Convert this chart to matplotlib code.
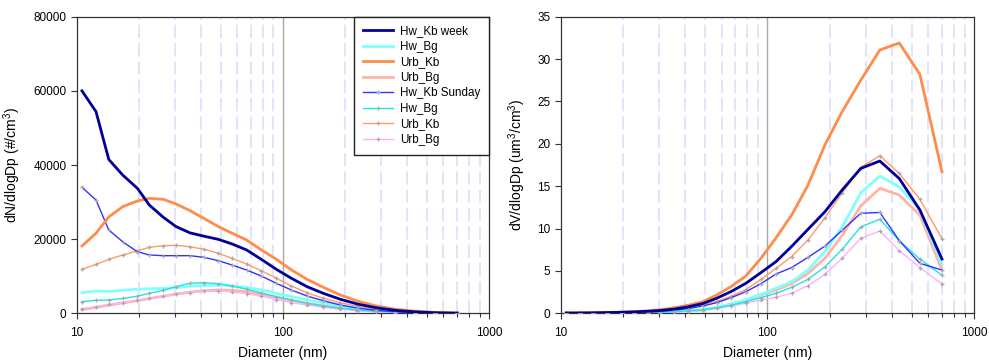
import numpy as np
import matplotlib
matplotlib.use("Agg")
import matplotlib.pyplot as plt
from matplotlib.ticker import FixedLocator, NullFormatter, FixedFormatter

plt.rcParams['font.family'] = ['Liberation Sans', 'DejaVu Sans']
plt.rcParams['mathtext.fontset'] = 'custom'
plt.rcParams['mathtext.rm'] = 'Liberation Sans'

# Diameters (nm)
diam = [10.6, 12.4, 14.3, 16.7, 19.7, 22.5, 26.3, 30.3, 35.4, 41.4, 48.6, 56.7,
        66.6, 78.6, 93, 110, 131, 157, 190, 230, 283, 350, 435, 547, 700]

# Number size distributions dN/dlogDp (#/cm3)
n_hw_kb_week = [60000, 54400, 41500, 37300, 33700, 29200, 25900, 23400, 21700, 20800, 19950, 18700,
                17100, 14550, 11850, 9440, 7180, 5390, 3780, 2500, 1500, 800, 400, 150, 50]
n_hw_bg = [5560, 6000, 5900, 6200, 6500, 6600, 6700, 6900, 7300, 7500, 7600, 7400,
           7000, 6300, 5400, 4500, 3600, 2800, 2000, 1400, 900, 500, 250, 100, 40]
n_urb_kb = [18150, 21600, 26000, 28750, 30300, 31000, 30750, 29500, 27700, 25600, 23400, 21600,
            19800, 17100, 14550, 11700, 9170, 7010, 4940, 3300, 2000, 1100, 600, 250, 80]
n_urb_bg = [1000, 1600, 2200, 2800, 3400, 4000, 4600, 5200, 5700, 6100, 6300, 6200,
            5800, 5100, 4300, 3500, 2700, 2000, 1400, 900, 550, 300, 150, 60, 20]
n_hw_kb_sun = [34000, 30550, 22470, 19300, 16600, 15730, 15540, 15540, 15540, 15100, 14200, 13030,
               11680, 10060, 8090, 6280, 4670, 3400, 2240, 1400, 800, 400, 200, 80, 30]
n_hw_bg2 = [3130, 3500, 3600, 4000, 4600, 5400, 6200, 7200, 8090, 8270, 8000, 7360,
            6500, 5500, 4500, 3600, 2700, 2000, 1400, 900, 550, 300, 150, 60, 20]
n_urb_kb2 = [11870, 13200, 14560, 15720, 16880, 17800, 18230, 18340, 17960, 17260, 16180, 14830,
             13300, 11490, 9440, 7360, 5560, 4050, 2860, 1900, 1100, 600, 300, 120, 40]
n_urb_bg2 = [1200, 1800, 2400, 2900, 3500, 4000, 4600, 5100, 5600, 5900, 6000, 5800,
             5300, 4600, 3700, 2900, 2200, 1600, 1100, 700, 400, 200, 100, 40, 15]

# Volume size distributions dV/dlogDp (um3/cm3)
v_hw_kb_week = [0.04, 0.05, 0.06, 0.09, 0.13, 0.17, 0.24, 0.33, 0.5, 0.77, 1.15, 1.77,
                2.56, 3.54, 4.8, 6.1, 7.9, 9.9, 12.0, 14.55, 17.1, 17.97, 15.9, 12.2, 6.4]
v_hw_bg = [0.003, 0.006, 0.009, 0.015, 0.026, 0.04, 0.065, 0.1, 0.17, 0.28, 0.45, 0.7,
           1.1, 1.6, 2.24, 2.95, 3.73, 5.1, 7.3, 10.2, 14.2, 16.2, 14.9, 12.2, 5.8]
v_urb_kb = [0.01, 0.02, 0.04, 0.07, 0.12, 0.19, 0.29, 0.43, 0.66, 0.95, 1.37, 2.16,
            3.15, 4.4, 6.5, 8.9, 11.6, 15.1, 19.9, 23.8, 27.5, 31.07, 31.9, 28.2, 16.7]
v_urb_bg = [0.001, 0.002, 0.003, 0.007, 0.014, 0.024, 0.044, 0.075, 0.13, 0.23, 0.4, 0.65,
            1.0, 1.5, 2.16, 2.75, 3.5, 4.7, 6.5, 9.2, 12.66, 14.75, 13.96, 11.6, 5.1]
v_hw_kb_sun = [0.02, 0.03, 0.03, 0.05, 0.07, 0.09, 0.15, 0.23, 0.36, 0.56, 0.86, 1.25,
               1.84, 2.55, 3.5, 4.64, 5.4, 6.6, 7.94, 9.8, 11.8, 11.9, 8.57, 5.9, 5.1]
v_hw_bg2 = [0.002, 0.003, 0.005, 0.01, 0.02, 0.03, 0.06, 0.1, 0.18, 0.31, 0.4, 0.65,
            0.95, 1.37, 1.84, 2.36, 3.07, 4.0, 5.5, 7.55, 10.2, 11.1, 8.57, 6.4, 4.5]
v_urb_kb2 = [0.01, 0.01, 0.02, 0.04, 0.07, 0.11, 0.17, 0.25, 0.41, 0.64, 1.0, 1.4,
             2.0, 2.8, 4.0, 5.3, 6.7, 8.65, 11.3, 14.2, 17.2, 18.6, 16.5, 13.45, 8.8]
v_urb_bg2 = [0.001, 0.002, 0.004, 0.007, 0.014, 0.024, 0.044, 0.074, 0.13, 0.22, 0.4, 0.6,
             0.85, 1.18, 1.57, 1.89, 2.36, 3.26, 4.6, 6.5, 8.85, 9.7, 7.4, 5.4, 3.46]

labels = ["Hw_Kb week", "Hw_Bg", "Urb_Kb", "Urb_Bg", "Hw_Kb Sunday", "Hw_Bg", "Urb_Kb", "Urb_Bg"]
colors = ["#000099", "#80FFFF", "#FF8C4A", "#FFB4A4", "#3333FF", "#19E6E6", "#FF9A66", "#FFB0FF"]
widths = [2.0, 2.0, 2.0, 2.0, 1.0, 1.0, 1.0, 1.0]
marked = [False, False, False, False, True, True, True, True]

n_series = [n_hw_kb_week, n_hw_bg, n_urb_kb, n_urb_bg, n_hw_kb_sun, n_hw_bg2, n_urb_kb2, n_urb_bg2]
v_series = [v_hw_kb_week, v_hw_bg, v_urb_kb, v_urb_bg, v_hw_kb_sun, v_hw_bg2, v_urb_kb2, v_urb_bg2]

fig = plt.figure(figsize=(9.89, 3.63), dpi=100)
ax1 = fig.add_axes([0.0776, 0.1369, 0.4169, 0.8171])
ax2 = fig.add_axes([0.5672, 0.1369, 0.4176, 0.8171])

minor_pos = [v * m for m in (10, 100) for v in range(2, 10)]
order = [3, 1, 7, 5, 6, 4, 2, 0]

def style_axis(ax, ymax, ystep, ylabel):
    ax.set_xscale('log')
    ax.set_xlim(10, 1000)
    ax.set_ylim(0, ymax)
    for x in minor_pos:
        ax.axvline(x, color='#DEDEF8', lw=1.2, ls=(0, (8, 3)), zorder=0)
    ax.axvline(100, color='#A8A8A8', lw=1.0, zorder=0)
    ax.xaxis.set_major_locator(FixedLocator([10, 100, 1000]))
    ax.xaxis.set_major_formatter(FixedFormatter(['10', '100', '1000']))
    ax.xaxis.set_minor_locator(FixedLocator(minor_pos))
    ax.xaxis.set_minor_formatter(NullFormatter())
    ax.set_yticks(np.arange(0, ymax + ystep / 2, ystep))
    ax.tick_params(axis='both', which='major', direction='out', length=4, width=0.8,
                   labelsize=8.5, color='#333333')
    ax.tick_params(axis='x', which='minor', direction='out', length=3, width=0.8, color='#333333')
    ax.tick_params(axis='x', pad=6)
    for s in ax.spines.values():
        s.set_color('#333333')
        s.set_linewidth(0.9)
    ax.set_xlabel('Diameter (nm)', fontsize=10, labelpad=5)
    ax.set_ylabel(ylabel, fontsize=10, labelpad=7)

style_axis(ax1, 80000, 20000, 'dN/dlogDp (#/cm$^{3}$)')
style_axis(ax2, 35, 5, 'dV/dlogDp (um$^{3}$/cm$^{3}$)')

handles = [None] * 8
for i in order:
    kw = dict(color=colors[i], lw=widths[i], label=labels[i], zorder=3 + (1 if i in (0, 2) else 0))
    if marked[i]:
        kw.update(marker='+', ms=3.5, mec='#A8A8A8', mew=0.9)
    h, = ax1.plot(diam, n_series[i], **kw)
    handles[i] = h
    ax2.plot(diam, v_series[i], **kw)

leg = ax1.legend(handles, labels, loc='upper right', fontsize=8.4, frameon=True, fancybox=False,
                 edgecolor='#222222', framealpha=1.0, borderaxespad=0.0, handlelength=2.6,
                 labelspacing=0.3, borderpad=0.75, handletextpad=0.6, markerscale=0.9)
leg.get_frame().set_linewidth(1.0)

fig.savefig('out.png', dpi=100)
